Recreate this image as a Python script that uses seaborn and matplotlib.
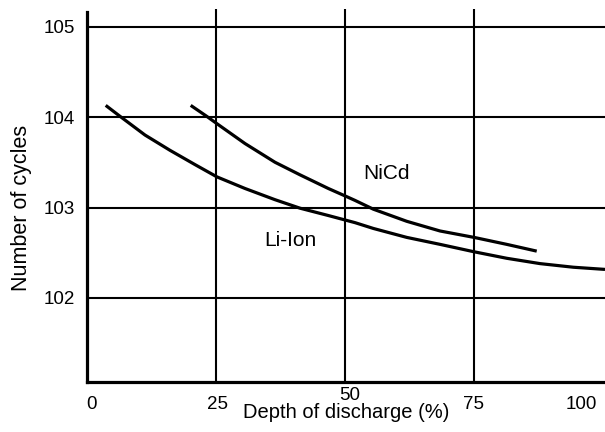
import numpy as np
import pandas as pd
import matplotlib
matplotlib.use("Agg")
import matplotlib.pyplot as plt
import matplotlib.transforms as mtransforms
import seaborn as sns

# Data (y = exponent of number of cycles, i.e. 10^y)
liion_dod = [3.72, 6.49, 11.33, 16.17, 21.01, 25.27, 30.69, 36.50, 41.34, 46.82,
             52.0, 55.54, 62.01, 68.45, 75.04, 81.37, 87.82, 94.27, 100.4]
liion_exp = [4.130, 4.009, 3.802, 3.633, 3.475, 3.339, 3.211, 3.087, 2.993, 2.912,
             2.833, 2.769, 2.670, 2.593, 2.511, 2.439, 2.380, 2.340, 2.316]
nicd_dod = [20.18, 23.28, 25.27, 30.69, 36.50, 41.34, 46.82, 50.25, 52.0,
            55.54, 62.01, 68.45, 75.04, 81.37, 87.18]
nicd_exp = [4.130, 4.009, 3.927, 3.708, 3.501, 3.362, 3.211, 3.124, 3.079,
            2.982, 2.848, 2.741, 2.670, 2.593, 2.518]

x_ticks = [0, 25, 50, 75, 100]
x_ticklabels = ["0", "25", "50", "75", "100"]
y_ticks = [2, 3, 4, 5]
y_ticklabels = ["102", "103", "104", "105"]

df = pd.concat([
    pd.DataFrame({"dod": liion_dod, "exp": liion_exp, "battery": "Li-Ion"}),
    pd.DataFrame({"dod": nicd_dod, "exp": nicd_exp, "battery": "NiCd"}),
])

sns.set_theme(style="white")
plt.rcParams['font.family'] = ['Liberation Sans', 'DejaVu Sans']

fig = plt.figure(figsize=(6.05, 4.32), dpi=100)
ax = fig.add_axes([86.5 / 605, 50.3 / 432, 518.5 / 605, 372.7 / 432])

sns.lineplot(data=df, x="dod", y="exp", hue="battery", palette=["black", "black"],
             sort=False, legend=False, linewidth=2.3, ax=ax, solid_capstyle="butt")

ax.set_xlim(0, 100.4)
ax.set_ylim(1.074, 5.196)

for v in [25, 50, 75]:
    ax.axvline(v, color="black", linewidth=1.5, zorder=1)
for v in y_ticks:
    ax.axhline(v, color="black", linewidth=1.5, zorder=1)

ax.set_xticks(x_ticks)
ax.set_xticklabels(x_ticklabels, fontsize=13.5)
ax.set_yticks(y_ticks)
ax.set_yticklabels(y_ticklabels, fontsize=13.5)
ax.tick_params(axis="both", length=0, colors="black")
ax.tick_params(axis="x", pad=10.5)
ax.tick_params(axis="y", pad=8.5)

offsets = {"0": (4.5, 0), "25": (1.5, 0), "50": (5, 9), "75": (0, 0), "100": (-22, 0)}
for lab in ax.get_xticklabels():
    dx, dy = offsets.get(lab.get_text(), (0, 0))
    lab.set_transform(lab.get_transform() + mtransforms.ScaledTranslation(dx / 100, dy / 100, fig.dpi_scale_trans))

for s in ["top", "right"]:
    ax.spines[s].set_visible(False)
for s in ["left", "bottom"]:
    ax.spines[s].set_color("black")
    ax.spines[s].set_linewidth(2.3)
ax.spines["left"].set_bounds(1.074, 5.166)

ax.set_xlabel("Depth of discharge (%)", fontsize=14.5, color="black")
ax.set_ylabel("Number of cycles", fontsize=15.5, color="black")
ax.xaxis.label.set_va("center")
ax.yaxis.label.set_va("center")
ax.xaxis.set_label_coords((346 - 86.5) / 518.5, (381.7 - 413) / 372.7)
ax.yaxis.set_label_coords((21.7 - 86.5) / 518.5, (381.7 - 208) / 372.7)

ax.text(58.1, 3.379, "NiCd", fontsize=15, ha="center", va="center", color="black")
ax.text(39.4, 2.641, "Li-Ion", fontsize=15, ha="center", va="center", color="black")

fig.savefig("out.png", dpi=100)
